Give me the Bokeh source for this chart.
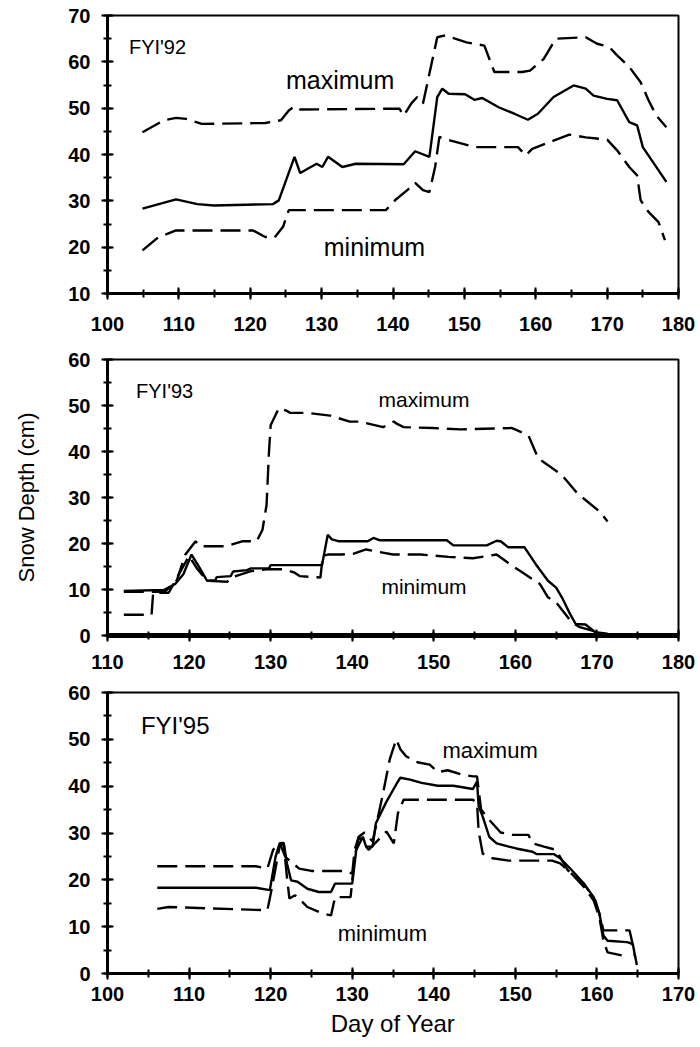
from bokeh.plotting import figure
from bokeh.layouts import column
from bokeh.models import Range1d, SingleIntervalTicker, Label
from bokeh.embed import file_html
from bokeh.resources import INLINE

# ---------------- data ----------------
# FYI'92
mean1_day = [104.9,109.6,112.6,114.9,123.2,124.0,126.2,127.0,129.3,130.1,130.9,132.9,134.8,141.5,143.1,145.1,146.2,146.9,147.8,150.1,151.4,152.5,154.8,157.0,158.9,160.3,162.5,165.3,167.0,168.1,170.0,171.4,173.1,174.2,175.0,178.3]
mean1_val = [28.3,30.3,29.3,29.0,29.3,30.1,39.5,36.0,38.0,37.3,39.5,37.3,38.0,37.9,40.7,39.5,52.4,54.2,53.1,53.0,51.8,52.2,50.2,48.8,47.5,48.8,52.4,54.9,54.2,52.7,52.0,51.7,47.0,46.3,41.6,34.1]
max1_day = [104.9,107.9,109.6,111.0,113.2,122.1,124.3,125.4,126.2,127.0,140.9,141.5,142.6,143.4,144.2,146.2,147.3,150.3,152.8,154.2,158.1,159.2,161.1,162.8,167.0,168.6,170.3,171.4,173.1,174.7,175.8,176.9,178.3]
max1_val = [44.8,47.4,47.9,47.7,46.6,46.8,47.4,49.5,50.4,49.7,49.9,48.4,51.1,52.4,51.0,65.3,65.7,64.2,63.5,57.8,57.8,58.1,60.6,65.0,65.3,63.9,63.2,61.4,58.9,55.6,51.7,48.4,45.9]
min1_day = [104.9,107.1,109.6,120.4,122.1,123.4,124.6,125.4,139.0,140.4,142.0,143.1,144.2,145.1,145.9,146.5,148.1,151.4,157.5,158.6,159.5,162.5,164.7,167.0,170.0,171.4,173.1,174.2,174.7,175.8,177.2,178.1]
min1_val = [19.3,22.1,23.6,23.6,22.2,22.1,24.4,28.0,28.0,30.3,32.3,33.9,32.3,31.9,37.3,43.8,43.0,41.6,41.6,39.8,41.2,43.0,44.3,43.7,43.2,40.9,37.3,35.5,30.1,27.6,25.4,21.5]

# FYI'93
mean2_day = [112.0,116.9,118.3,119.3,120.3,121.3,122.2,123.2,123.4,125.1,125.4,127.1,127.6,129.8,130.0,136.3,137.0,137.5,138.3,141.9,142.6,143.4,151.6,152.4,156.5,157.7,158.2,159.1,161.1,162.5,164.0,165.0,165.7,166.7,167.4,168.6,169.8,171.3]
mean2_val = [9.7,9.9,11.2,13.3,17.6,14.7,11.9,12.0,12.7,12.9,13.9,14.2,14.6,14.6,15.3,15.3,21.9,20.9,20.5,20.5,21.2,20.7,20.7,19.6,19.6,20.6,20.5,19.2,19.2,15.5,11.9,10.4,8.3,4.7,2.5,2.4,0.7,0.4]
max2_day = [112.0,117.0,118.5,119.5,120.8,121.3,123.7,124.5,126.6,128.3,129.0,129.5,129.8,130.0,131.0,131.9,132.4,134.4,137.3,139.7,140.9,143.8,145.1,145.5,146.3,149.9,153.3,159.6,161.6,162.8,165.7,167.6,170.3,171.3]
max2_val = [9.5,9.5,12.0,17.5,20.5,19.4,19.4,19.4,20.5,20.5,23.0,28.4,40.0,45.7,49.4,48.9,48.4,48.4,47.8,46.5,46.5,45.3,46.5,46.0,45.3,45.1,44.8,45.1,43.5,38.5,34.9,30.9,27.0,24.8]
min2_day = [112.0,115.4,115.6,117.5,118.5,120.0,121.0,122.2,124.7,125.2,127.6,129.5,131.5,132.9,133.6,136.1,136.4,137.0,138.7,140.2,141.7,145.0,148.4,151.8,154.8,157.7,159.1,160.6,163.0,164.0,165.0,166.9,167.9,169.3,170.8]
min2_val = [4.5,4.5,9.3,9.3,12.5,17.3,14.5,11.9,11.7,12.6,14.0,14.4,14.4,13.7,12.9,12.6,17.3,17.6,17.6,17.8,18.7,17.6,17.6,17.1,16.8,17.6,15.8,14.0,11.2,8.3,7.2,2.9,1.8,1.1,0.4]

# FYI'95
mean3_day = [106.1,118.2,119.9,120.6,121.1,121.6,122.0,122.5,123.3,124.5,125.9,127.4,127.9,130.0,130.5,131.3,131.7,132.5,132.9,134.2,135.6,135.9,137.1,138.5,140.5,142.4,144.8,145.3,145.5,146.0,146.8,147.7,149.2,150.1,152.1,152.6,154.7,155.5,156.9,158.4,159.6,160.3,160.8,161.3,163.7,164.4,164.7]
mean3_val = [18.3,18.3,17.8,24.9,27.8,27.9,23.5,19.9,19.6,18.1,17.4,17.4,19.2,19.2,26.4,29.2,27.1,27.1,32.1,36.7,41.0,41.8,41.4,40.7,40.1,40.1,39.4,41.0,35.7,33.5,29.2,27.8,27.1,26.7,26.0,25.5,25.5,24.6,22.1,19.2,16.3,12.8,8.1,7.0,6.7,6.3,3.4]
max3_day = [106.1,118.2,119.6,120.3,121.1,121.8,123.5,125.0,129.3,130.0,130.3,130.8,131.5,132.5,133.7,134.6,135.4,135.9,136.6,138.0,139.5,140.5,141.7,143.4,144.8,145.3,145.8,146.8,148.2,149.7,151.6,152.1,153.5,155.0,156.4,158.4,159.8,160.3,160.8,164.0,164.2,164.9]
max3_val = [22.9,22.9,22.4,26.4,27.9,24.9,22.4,21.9,21.9,21.3,26.4,29.2,30.1,28.2,37.8,45.7,50.0,47.9,46.4,45.1,44.6,43.0,43.4,42.5,42.1,42.1,35.0,32.8,30.1,29.6,29.6,27.8,27.1,26.4,22.1,19.2,15.6,12.8,9.2,9.2,7.7,1.8]
min3_day = [106.1,107.5,119.6,120.1,121.1,121.6,122.0,122.3,123.0,123.7,124.5,126.4,127.4,127.9,129.8,130.3,130.8,132.0,134.2,135.1,135.6,136.3,144.8,145.3,145.5,146.0,147.2,149.2,154.5,155.5,156.9,158.4,159.6,160.3,160.8,161.3,163.2,163.7]
min3_val = [13.8,14.2,13.5,17.8,27.1,27.8,20.6,16.0,16.7,15.6,14.2,12.8,12.4,16.3,16.3,24.9,29.2,26.4,30.3,27.8,34.2,37.1,37.1,36.4,30.3,25.6,24.6,24.1,24.1,23.5,21.3,18.5,15.6,12.0,7.0,4.5,3.8,3.4]

# axis ranges and annotation texts
x_ranges = [(100, 180), (110, 180), (100, 170)]
y_ranges = [(10, 70), (0, 60), (0, 60)]
panel_names = ["FYI'92", "FYI'93", "FYI'95"]
name_pos = [(103.0, 63.2), (113.5, 53.2), (104.1, 53.0)]
max_pos = [(132.6, 56.0), (148.8, 51.4), (146.9, 47.7)]
min_pos = [(137.4, 20.0), (148.8, 10.6), (133.7, 8.6)]
name_size = ["20px", "20px", "24px"]
ann_size = ["25px", "21px", "22px"]

FONT = "Liberation Sans"
DASH = "20 8"


def panel(h, top, bottom, xr, yr, x_standoff, axis_w_bottom=3):
    p = figure(width=700, height=h, x_range=Range1d(*xr), y_range=Range1d(*yr),
               output_backend="svg", toolbar_location=None,
               min_border_left=107, min_border_right=22,
               min_border_top=top, min_border_bottom=bottom)
    p.grid.visible = False
    p.outline_line_color = "black"
    p.outline_line_width = 2
    p.outline_line_alpha = 1
    for ax in (p.xaxis[0], p.yaxis[0]):
        ax.ticker = SingleIntervalTicker(interval=10, num_minor_ticks=2)
        ax.major_tick_in = 6
        ax.major_tick_out = 6
        ax.minor_tick_in = 4
        ax.minor_tick_out = 4
        ax.major_tick_line_width = 2
        ax.minor_tick_line_width = 2
        ax.major_label_text_font = FONT
        ax.major_label_text_font_style = "bold"
        ax.major_label_text_font_size = "20px"
        ax.major_label_text_color = "black"
        ax.axis_line_color = "black"
        ax.axis_label_text_color = "black"
        ax.axis_label_text_font = FONT
    p.yaxis[0].axis_line_width = 3
    p.xaxis[0].axis_line_width = axis_w_bottom
    p.yaxis[0].major_label_standoff = 11
    p.xaxis[0].major_label_standoff = x_standoff
    return p


def draw(p, md, mv, xd, xv, nd, nv, i):
    p.line(md, mv, line_color="black", line_width=2.4)
    p.line(xd, xv, line_color="black", line_width=2.4, line_dash=DASH)
    p.line(nd, nv, line_color="black", line_width=2.4, line_dash=DASH)
    p.add_layout(Label(x=name_pos[i][0], y=name_pos[i][1], text=panel_names[i],
                       text_font=FONT, text_font_size=name_size[i], text_baseline="middle",
                       text_align="left", text_color="black"))
    p.add_layout(Label(x=max_pos[i][0], y=max_pos[i][1], text="maximum",
                       text_font=FONT, text_font_size=ann_size[i], text_baseline="middle",
                       text_align="center", text_color="black"))
    p.add_layout(Label(x=min_pos[i][0], y=min_pos[i][1], text="minimum",
                       text_font=FONT, text_font_size=ann_size[i], text_baseline="middle",
                       text_align="center", text_color="black"))


p1 = panel(345, 15, 52, x_ranges[0], y_ranges[0], 17)
draw(p1, mean1_day, mean1_val, max1_day, max1_val, min1_day, min1_val, 0)

p2 = panel(335, 14, 45, x_ranges[1], y_ranges[1], 13, axis_w_bottom=5)
draw(p2, mean2_day, mean2_val, max2_day, max2_val, min2_day, min2_val, 1)
p2.yaxis[0].axis_label = "Snow Depth (cm)"
p2.yaxis[0].axis_label_text_font_style = "normal"
p2.yaxis[0].axis_label_text_font_size = "22px"
p2.yaxis[0].axis_label_standoff = 26

p3 = panel(367, 12, 74, x_ranges[2], y_ranges[2], 7)
draw(p3, mean3_day, mean3_val, max3_day, max3_val, min3_day, min3_val, 2)
p3.xaxis[0].axis_label = "Day of Year"
p3.xaxis[0].axis_label_text_font_style = "normal"
p3.xaxis[0].axis_label_text_font_size = "24px"
p3.xaxis[0].axis_label_standoff = 6

layout = column(p1, p2, p3, spacing=0)
open("out.html", "w").write(file_html(layout, INLINE))
